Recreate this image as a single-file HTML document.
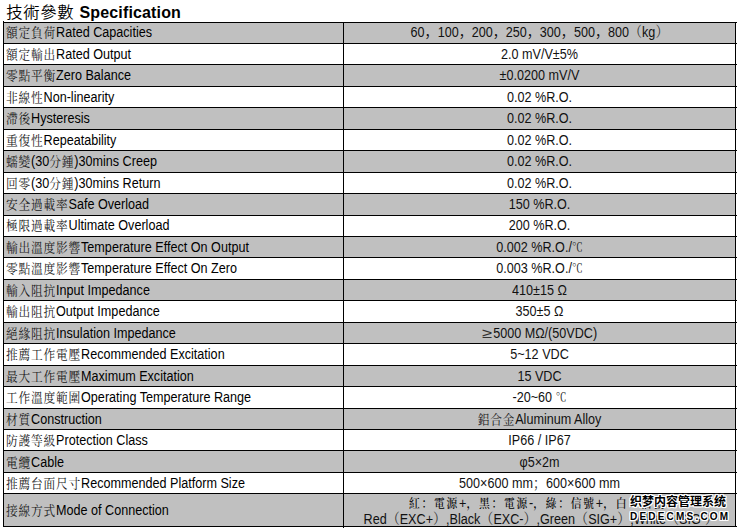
<!DOCTYPE html>
<html><head><meta charset="utf-8"><title>Specification</title>
<style>
html,body{margin:0;padding:0;background:#fff;}
body{width:738px;height:530px;position:relative;overflow:hidden;font-family:"Liberation Sans",Arial,sans-serif;}
.t{position:absolute;left:6px;top:0;height:22px;white-space:nowrap;}
.t .zh{font-family:"Liberation Sans","Noto Sans CJK TC",sans-serif;font-weight:350;font-size:16.4px;letter-spacing:0.6px;color:#000;position:absolute;left:0.3px;top:1.4px;line-height:22px;}
.t .en{font-weight:bold;font-size:16px;letter-spacing:0.15px;color:#000;position:absolute;left:73.5px;top:1.9px;line-height:22px;}
.bg{position:absolute;left:3px;width:733px;background:#c0c0c0;}
.h{position:absolute;left:3px;width:734px;height:1px;background:#000;}
.v{position:absolute;width:1px;background:#000;}
.l,.r{position:absolute;white-space:nowrap;font-size:14px;line-height:20px;height:20px;color:#000;transform:scaleX(0.9);}
.l{left:6px;transform-origin:0 0;}
.r{left:344px;width:391px;text-align:center;color:#111;transform-origin:50% 0;}
.z{font-family:"Liberation Serif","Noto Serif CJK SC",serif;color:#1a1a1a;font-size:13px;letter-spacing:0.9px;}
.e{font-family:"Liberation Sans",sans-serif;color:#000;font-size:14px;letter-spacing:0;}
.c{font-family:"Liberation Sans","Noto Sans CJK SC",sans-serif;font-size:14.5px;}
.p{font-family:"Liberation Serif","Noto Serif CJK SC",serif;font-size:14.5px;color:#333;}
.ge{display:inline-block;width:12.6px;transform:translateX(-2.7px) scaleX(1.45);transform-origin:0 50%;color:#333;}
.c2{font-family:"Liberation Serif","Noto Serif CJK SC",serif;font-size:12px;color:#222;}
.wm{position:absolute;color:#000;font-weight:bold;text-shadow:1px 0 0 #fff,-1px 0 0 #fff,0 1px 0 #fff,0 -1px 0 #fff,1px 1px 0 #fff,-1px -1px 0 #fff,1px -1px 0 #fff,-1px 1px 0 #fff;white-space:nowrap;}
</style></head><body>
<div class="t"><span class="zh">技術參數</span><span class="en">Specification</span></div>

<div class="bg" style="top:23px;height:20px"></div>
<div class="bg" style="top:65px;height:21px"></div>
<div class="bg" style="top:108px;height:21px"></div>
<div class="bg" style="top:151px;height:21px"></div>
<div class="bg" style="top:194px;height:21px"></div>
<div class="bg" style="top:237px;height:20px"></div>
<div class="bg" style="top:280px;height:20px"></div>
<div class="bg" style="top:323px;height:20px"></div>
<div class="bg" style="top:366px;height:20px"></div>
<div class="bg" style="top:409px;height:20px"></div>
<div class="bg" style="top:451px;height:21px"></div>
<div class="bg" style="top:494px;height:32px"></div>
<div class="h" style="top:22px"></div>
<div class="h" style="top:43px"></div>
<div class="h" style="top:64px"></div>
<div class="h" style="top:86px"></div>
<div class="h" style="top:107px"></div>
<div class="h" style="top:129px"></div>
<div class="h" style="top:150px"></div>
<div class="h" style="top:172px"></div>
<div class="h" style="top:193px"></div>
<div class="h" style="top:215px"></div>
<div class="h" style="top:236px"></div>
<div class="h" style="top:257px"></div>
<div class="h" style="top:279px"></div>
<div class="h" style="top:300px"></div>
<div class="h" style="top:322px"></div>
<div class="h" style="top:343px"></div>
<div class="h" style="top:365px"></div>
<div class="h" style="top:386px"></div>
<div class="h" style="top:408px"></div>
<div class="h" style="top:429px"></div>
<div class="h" style="top:450px"></div>
<div class="h" style="top:472px"></div>
<div class="h" style="top:493px"></div>
<div class="h" style="top:526px"></div>
<div class="v" style="left:3px;top:21px;height:506px"></div>
<div class="v" style="left:343px;top:22px;height:506px"></div>
<div class="v" style="left:735px;top:22px;height:505px"></div>
<div class="l" style="top:22.00px"><span class="z">額定負荷</span>Rated Capacities</div>
<div class="r" style="top:22.00px">60<span class="c">，</span>100<span class="c">，</span>200<span class="c">，</span>250<span class="c">，</span>300<span class="c">，</span>500<span class="c">，</span>800<span class="p">（</span>kg<span class="p">）</span></div>
<div class="l" style="top:44.00px"><span class="z">額定輸出</span>Rated Output</div>
<div class="r" style="top:44.00px">2.0 mV/V±5%</div>
<div class="l" style="top:65.00px"><span class="z">零點平衡</span>Zero Balance</div>
<div class="r" style="top:65.00px">±0.0200 mV/V</div>
<div class="l" style="top:87.00px"><span class="z">非線性</span>Non-linearity</div>
<div class="r" style="top:87.00px">0.02 %R.O.</div>
<div class="l" style="top:108.00px"><span class="z">滯後</span>Hysteresis</div>
<div class="r" style="top:108.00px">0.02 %R.O.</div>
<div class="l" style="top:130.00px"><span class="z">重復性</span>Repeatability</div>
<div class="r" style="top:130.00px">0.02 %R.O.</div>
<div class="l" style="top:151.00px"><span class="z">蠕變<span class="e">(30</span>分鍾<span class="e">)</span></span>30mins Creep</div>
<div class="r" style="top:151.00px">0.02 %R.O.</div>
<div class="l" style="top:173.00px"><span class="z">回零<span class="e">(30</span>分鍾<span class="e">)</span></span>30mins Return</div>
<div class="r" style="top:173.00px">0.02 %R.O.</div>
<div class="l" style="top:194.00px"><span class="z">安全過載率</span>Safe Overload</div>
<div class="r" style="top:194.00px">150 %R.O.</div>
<div class="l" style="top:215.00px"><span class="z">極限過載率</span>Ultimate Overload</div>
<div class="r" style="top:215.00px">200 %R.O.</div>
<div class="l" style="top:237.00px"><span class="z">輸出溫度影響</span>Temperature Effect On Output</div>
<div class="r" style="top:237.00px">0.002 %R.O./<span class="c2">℃</span></div>
<div class="l" style="top:258.00px"><span class="z">零點溫度影響</span>Temperature Effect On Zero</div>
<div class="r" style="top:258.00px">0.003 %R.O./<span class="c2">℃</span></div>
<div class="l" style="top:280.00px"><span class="z">輸入阻抗</span>Input Impedance</div>
<div class="r" style="top:280.00px">410±15 Ω</div>
<div class="l" style="top:301.00px"><span class="z">輸出阻抗</span>Output Impedance</div>
<div class="r" style="top:301.00px">350±5 Ω</div>
<div class="l" style="top:323.00px"><span class="z">絕緣阻抗</span>Insulation Impedance</div>
<div class="r" style="top:323.00px"><span class="ge">≥</span>5000 MΩ/(50VDC)</div>
<div class="l" style="top:344.00px"><span class="z">推薦工作電壓</span>Recommended Excitation</div>
<div class="r" style="top:344.00px">5~12 VDC</div>
<div class="l" style="top:366.00px"><span class="z">最大工作電壓</span>Maximum Excitation</div>
<div class="r" style="top:366.00px">15 VDC</div>
<div class="l" style="top:387.00px"><span class="z">工作溫度範圍</span>Operating Temperature Range</div>
<div class="r" style="top:387.00px">-20~60 <span class="c2">℃</span></div>
<div class="l" style="top:409.00px"><span class="z">材質</span>Construction</div>
<div class="r" style="top:409.00px"><span class="z">鋁合金</span>Aluminum Alloy</div>
<div class="l" style="top:430.00px"><span class="z">防護等級</span>Protection Class</div>
<div class="r" style="top:430.00px">IP66 / IP67</div>
<div class="l" style="top:452.00px"><span class="z">電纜</span>Cable</div>
<div class="r" style="top:452.00px">φ5×2m</div>
<div class="l" style="top:473.00px"><span class="z">推薦台面尺寸</span>Recommended Platform Size</div>
<div class="r" style="top:473.00px">500×600 mm<span class="p">；</span>600×600 mm</div>
<div class="l" style="top:500.00px"><span class="z">接線方式</span>Mode of Connection</div>
<div class="r" style="top:493px"><span class="z" style="font-size:12px;letter-spacing:1.9px;font-weight:500;color:#000">紅：電源</span>+<span class="z" style="font-size:12px;letter-spacing:1.9px;font-weight:500;color:#000">，黑：電源</span>-<span class="z" style="font-size:12px;letter-spacing:1.9px;font-weight:500;color:#000">，綠：信號</span>+<span class="z" style="font-size:12px;letter-spacing:1.9px;font-weight:500;color:#000">，白：信號</span>-</div>
<div class="r" style="top:509px">Red<span class="p">（</span>EXC+<span class="p">）</span>,Black<span class="p">（</span>EXC-<span class="p">）</span>,Green<span class="p">（</span>SIG+<span class="p">）</span>,White<span class="p">（</span>SIG-<span class="p">）</span></div>
<div class="wm" style="left:630px;top:495px;font-family:'Liberation Sans','Noto Sans CJK SC',sans-serif;font-size:12px;line-height:14px;">织梦内容管理系统</div>
<div class="wm" style="left:630px;top:510.5px;font-family:'Liberation Sans',sans-serif;font-size:10px;line-height:12px;letter-spacing:2.2px;">DEDECMS.COM</div>
</body></html>
